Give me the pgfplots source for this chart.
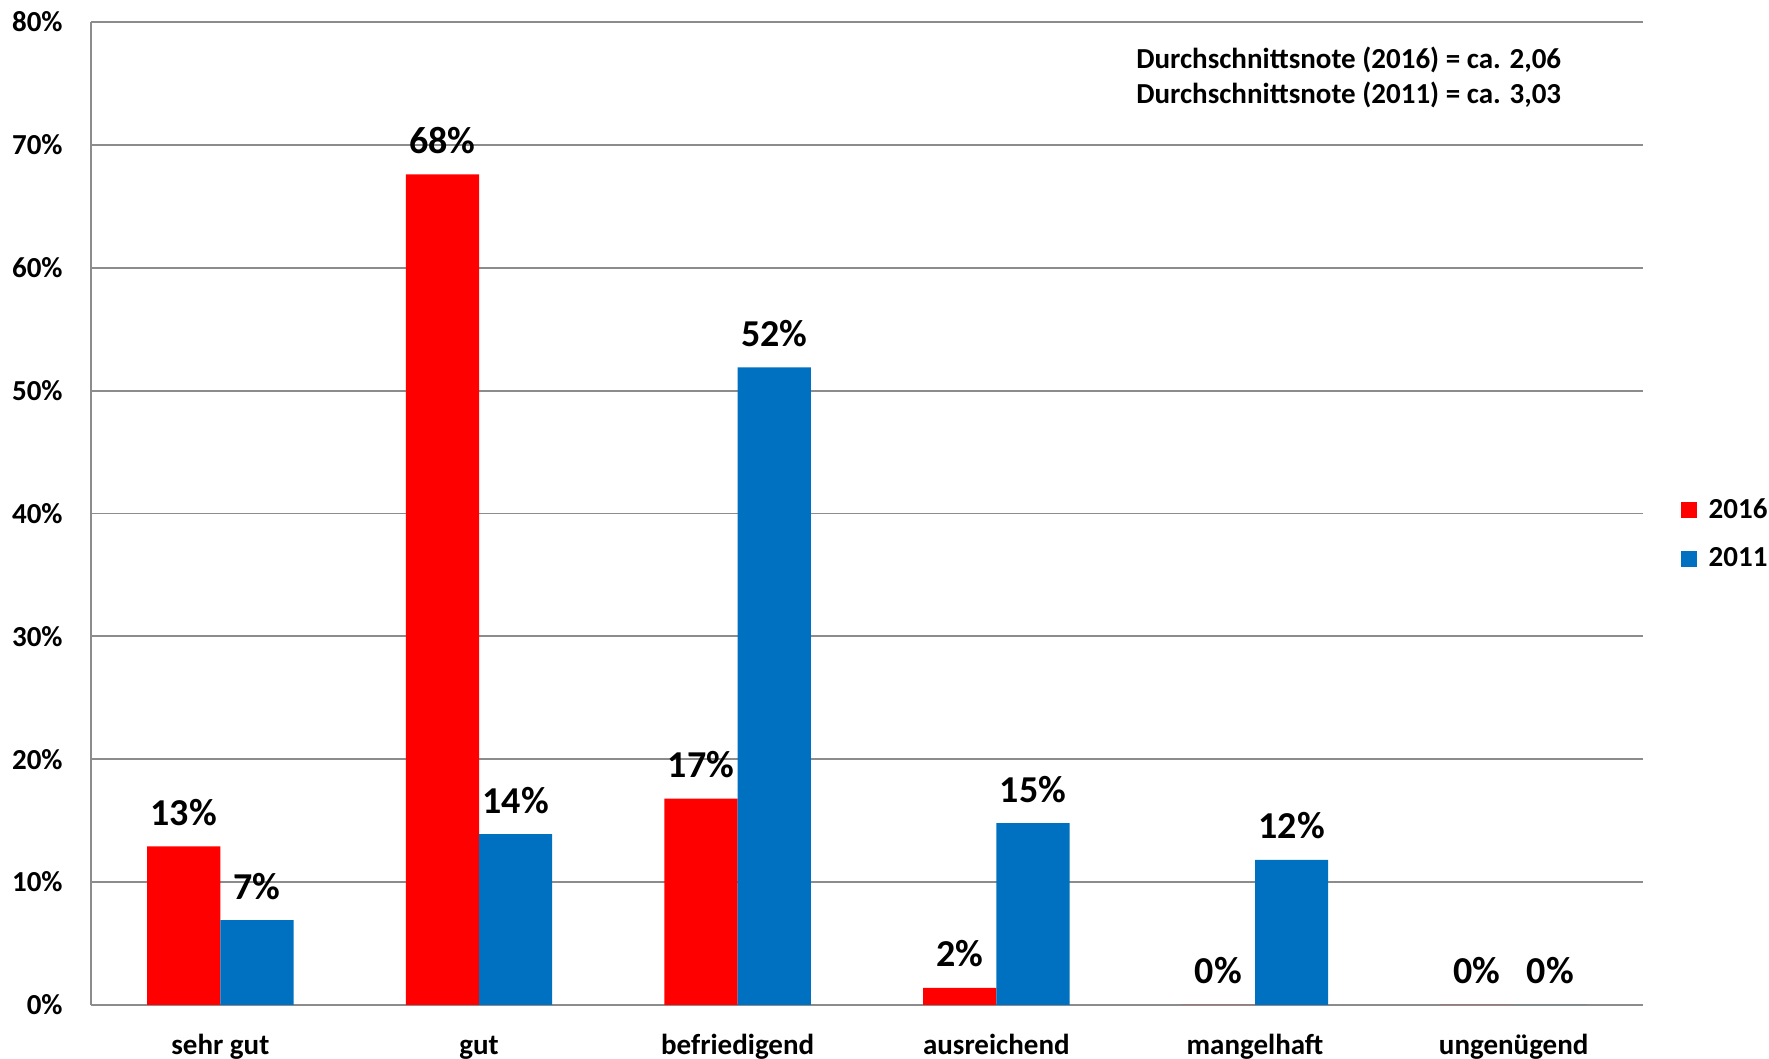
\documentclass[border=0pt]{standalone}
\usepackage{fontspec}
\setmainfont{Carlito}
\usepackage{pgfplots}
\usepackage{pgfplotstable}
\pgfplotsset{compat=1.18}
\definecolor{cred}{RGB}{255,0,0}
\definecolor{cblue}{RGB}{0,112,192}
\definecolor{gridc}{RGB}{140,140,140}

\pgfplotstableread{
x y lbl
0 12.9 13
1 67.6 68
2 16.8 17
3 1.4 2
4 0 0
5 0 0
}\datared
\pgfplotstableread{
x y lbl
0 6.9 7
1 13.9 14
2 51.9 52
3 14.8 15
4 11.8 12
5 0 0
}\datablue

\begin{document}
\begin{tikzpicture}
\begin{axis}[
  scale only axis, width=776pt, height=491.5pt,
  xmin=-0.5, xmax=5.5, ymin=0, ymax=80,
  enlargelimits=false,
  axis x line*=bottom, axis y line*=left,
  axis line style={gridc, line width=1pt, -},
  ymajorgrids, grid style={gridc, line width=0.9pt},
  major tick length=0pt,
  xtick={0,...,5},
  xticklabels={sehr gut,gut,befriedigend,ausreichend,mangelhaft,ungenügend},
  ytick={0,10,...,80},
  yticklabels={0\%,10\%,20\%,30\%,40\%,50\%,60\%,70\%,80\%},
  xticklabel style={font=\fontsize{14.5}{16}\selectfont\bfseries, anchor=base, yshift=-24.8pt},
  yticklabel style={font=\fontsize{14.5}{16}\selectfont\bfseries, anchor=east, inner sep=0pt, xshift=-14pt},
  ybar, bar width=36.6pt,
  nodes near coords={\pgfplotspointmeta\%},
  point meta=explicit symbolic,
  every node near coord/.append style={font=\fontsize{19}{21}\selectfont\bfseries, anchor=base, yshift=10.5pt, text=black},
  legend style={at={(1.024,0.479)}, anchor=west, draw=none, fill=none,
    font=\fontsize{14.5}{16}\selectfont\bfseries, row sep=9.2pt, inner sep=0pt},
  legend cell align=left,
  legend image code/.code={\fill[#1] (0pt,-4pt) rectangle (8pt,4pt); \path (12pt,0pt);},
  clip=false,
]
\addplot[fill=cred, draw=none, bar shift=-18.3pt] table[x=x, y=y, meta=lbl] {\datared};
\addplot[fill=cblue, draw=none, bar shift=18.3pt] table[x=x, y=y, meta=lbl] {\datablue};
\legend{2016,2011}
\node[anchor=base west, inner sep=0pt, font=\fontsize{14.5}{16}\selectfont\bfseries] at (rel axis cs:0.6733,0.9525) {Durchschnittsnote (2016) = ca. 2,06};
\node[anchor=base west, inner sep=0pt, font=\fontsize{14.5}{16}\selectfont\bfseries] at (rel axis cs:0.6733,0.917) {Durchschnittsnote (2011) = ca. 3,03};
\end{axis}
\pgfresetboundingbox
\path ([xshift=-45.5pt,yshift=-27pt]current axis.south west) rectangle ([xshift=63pt,yshift=11pt]current axis.north east);
\end{tikzpicture}
\end{document}
